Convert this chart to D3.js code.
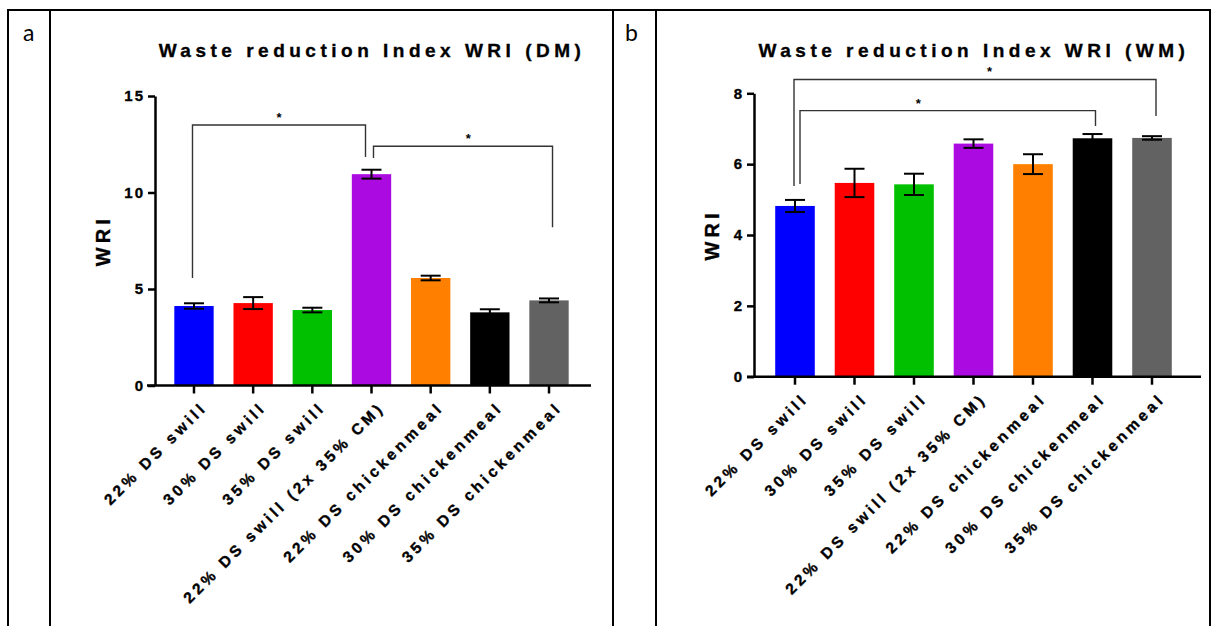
<!DOCTYPE html>
<html>
<head>
<meta charset="utf-8">
<script src="https://cdn.jsdelivr.net/npm/d3@7"></script>
<style>
  body { margin: 0; background: #fff; }
  svg { display: block; }
  .chart text { font-family: "Liberation Sans", Arial, sans-serif; font-weight: bold; fill: #000; }
  .chart .heavy { stroke: #000; stroke-width: 0.35px; }
</style>
</head>
<body>
<svg id="fig" width="1213" height="626"></svg>
<script>
// Treatment groups (shared by both panels)
const categories = [
  "22% DS swill",
  "30% DS swill",
  "35% DS swill",
  "22% DS swill (2x 35% CM)",
  "22% DS chickenmeal",
  "30% DS chickenmeal",
  "35% DS chickenmeal"
];
const barColors = ["#0000ff", "#ff0000", "#00c000", "#ab0ae0", "#ff8000", "#000000", "#626262"];

// Waste reduction index on dry matter basis: mean and error
const wriDM    = [4.12, 4.27, 3.91, 10.95, 5.57, 3.79, 4.41];
const wriDMErr = [0.14, 0.31, 0.12, 0.23, 0.12, 0.16, 0.10];

// Waste reduction index on wet matter basis: mean and error
const wriWM    = [4.82, 5.47, 5.43, 6.58, 6.00, 6.73, 6.74];
const wriWMErr = [0.17, 0.40, 0.30, 0.12, 0.28, 0.12, 0.05];

const dmTicks = [0, 5, 10, 15];
const wmTicks = [0, 2, 4, 6, 8];

// Significance comparisons (group indices)
const dmComparisons = [[0, 3], [3, 6]];
const wmComparisons = [[0, 6], [0, 5]];

const svg = d3.select("#fig");

// ---- surrounding table frame ----
const frame = svg.append("g").attr("stroke", "#000").attr("stroke-width", 2).attr("fill", "none");
frame.append("line").attr("x1", 7).attr("x2", 1211).attr("y1", 10).attr("y2", 10);
[8, 50, 613, 656, 1210].forEach(x =>
  frame.append("line").attr("x1", x).attr("x2", x).attr("y1", 10).attr("y2", 626));
svg.append("text").attr("x", 23).attr("y", 41).text("a")
  .attr("font-family", "Lato, 'Open Sans', sans-serif").attr("font-size", 23).attr("fill", "#000");
svg.append("text").attr("x", 625).attr("y", 41).text("b")
  .attr("font-family", "Lato, 'Open Sans', sans-serif").attr("font-size", 23).attr("fill", "#000");

function drawPanel(p) {
  const g = svg.append("g").attr("class", "chart");

  const x = d3.scaleBand().domain(categories).range(p.xRange)
    .paddingInner(0.335).paddingOuter(0.1675);
  const y = d3.scaleLinear().domain([0, p.yMax]).range(p.yRange);

  // title
  g.append("text").attr("class", "heavy").attr("x", p.titleX).attr("y", 57).attr("text-anchor", "middle")
    .attr("font-size", 19).attr("letter-spacing", 4.5).text(p.title);

  // y axis label
  g.append("text").attr("class", "heavy")
    .attr("transform", `translate(${p.yLabelX},${(p.yRange[0] + p.yRange[1]) / 2}) rotate(-90)`)
    .attr("text-anchor", "middle").attr("font-size", 20).attr("letter-spacing", 4)
    .text("WRI");

  // bars
  g.append("g").selectAll("rect").data(p.values).join("rect")
    .attr("x", (d, i) => x(categories[i]))
    .attr("width", x.bandwidth())
    .attr("y", d => y(d))
    .attr("height", d => y(0) - y(d))
    .attr("fill", (d, i) => barColors[i]);

  // error bars
  const eb = g.append("g").attr("stroke", "#000").attr("stroke-width", 2);
  p.values.forEach((v, i) => {
    const cx = x(categories[i]) + x.bandwidth() / 2;
    const lo = y(v - p.errors[i]), hi = y(v + p.errors[i]);
    eb.append("line").attr("x1", cx).attr("x2", cx).attr("y1", lo).attr("y2", hi);
    [lo, hi].forEach(yy =>
      eb.append("line").attr("x1", cx - 10).attr("x2", cx + 10).attr("y1", yy).attr("y2", yy));
  });

  // y axis
  const yAxis = g.append("g").attr("transform", `translate(${p.yAxisX},0)`)
    .call(d3.axisLeft(y).tickValues(p.ticks).tickSize(7).tickSizeOuter(0).tickPadding(3));
  yAxis.select(".domain").attr("stroke-width", 2.5);
  yAxis.selectAll(".tick line").attr("stroke-width", 2.5);
  yAxis.selectAll(".tick text").attr("class", "heavy")
    .attr("font-size", 15).attr("letter-spacing", 2)
    .attr("font-family", "Liberation Sans, Arial, sans-serif").attr("font-weight", "bold");

  // x axis
  const xAxis = g.append("g").attr("transform", `translate(0,${y(0)})`)
    .call(d3.axisBottom(x).tickSize(8).tickSizeOuter(0));
  xAxis.select(".domain").remove();
  xAxis.append("line").attr("x1", p.xLine[0]).attr("x2", p.xLine[1])
    .attr("stroke", "#000").attr("stroke-width", 2.5);
  xAxis.selectAll(".tick line").attr("stroke-width", 2.5);
  xAxis.selectAll(".tick text").attr("class", "heavy")
    .attr("font-size", 15.5).attr("letter-spacing", 3.6)
    .attr("font-family", "Liberation Sans, Arial, sans-serif").attr("font-weight", "bold")
    .attr("text-anchor", "end").attr("x", 0).attr("y", 0).attr("dy", 0)
    .attr("transform", "translate(14,23) rotate(-45)");

  // significance brackets
  const br = g.append("g").attr("stroke", "#333").attr("stroke-width", 1.4).attr("fill", "none");
  p.comparisons.forEach((c, k) => {
    const s = p.bracketStyle[k];
    const x1 = x(categories[c[0]]) + x.bandwidth() / 2 + s.dx1;
    const x2 = x(categories[c[1]]) + x.bandwidth() / 2 + s.dx2;
    const yl = y(s.level);
    br.append("path").attr("d",
      `M${x1},${y(s.end1)}V${yl}H${x2}V${y(s.end2)}`);
    g.append("text").attr("x", x1 + (x2 - x1) * s.starAt).attr("y", yl - 3)
      .attr("text-anchor", "middle").attr("font-size", 13).attr("font-weight", "normal")
      .text("*");
  });
}

drawPanel({
  title: "Waste reduction Index WRI (DM)", titleX: 372,
  values: wriDM, errors: wriDMErr, ticks: dmTicks, yMax: 15,
  xRange: [164.4, 578.6], yRange: [385.5, 96], yAxisX: 155, xLine: [147, 591],
  yLabelX: 110,
  comparisons: dmComparisons,
  bracketStyle: [
    { level: 13.5, end1: 5.57, end2: 11.84, dx1: -1.5, dx2: -6, starAt: 0.5 },
    { level: 12.4, end1: 11.79, end2: 8.2, dx1: 2, dx2: 3.5, starAt: 0.53 }
  ]
});

drawPanel({
  title: "Waste reduction Index WRI (WM)", titleX: 974,
  values: wriWM, errors: wriWMErr, ticks: wmTicks, yMax: 8,
  xRange: [765.25, 1181.75], yRange: [376.7, 93.3], yAxisX: 754, xLine: [747, 1201],
  yLabelX: 719,
  comparisons: wmComparisons,
  bracketStyle: [
    { level: 8.39, end1: 5.38, end2: 7.36, dx1: -1, dx2: 4, starAt: 0.54 },
    { level: 7.51, end1: 5.44, end2: 7.08, dx1: 5, dx2: 3, starAt: 0.40 }
  ]
});
</script>
</body>
</html>
